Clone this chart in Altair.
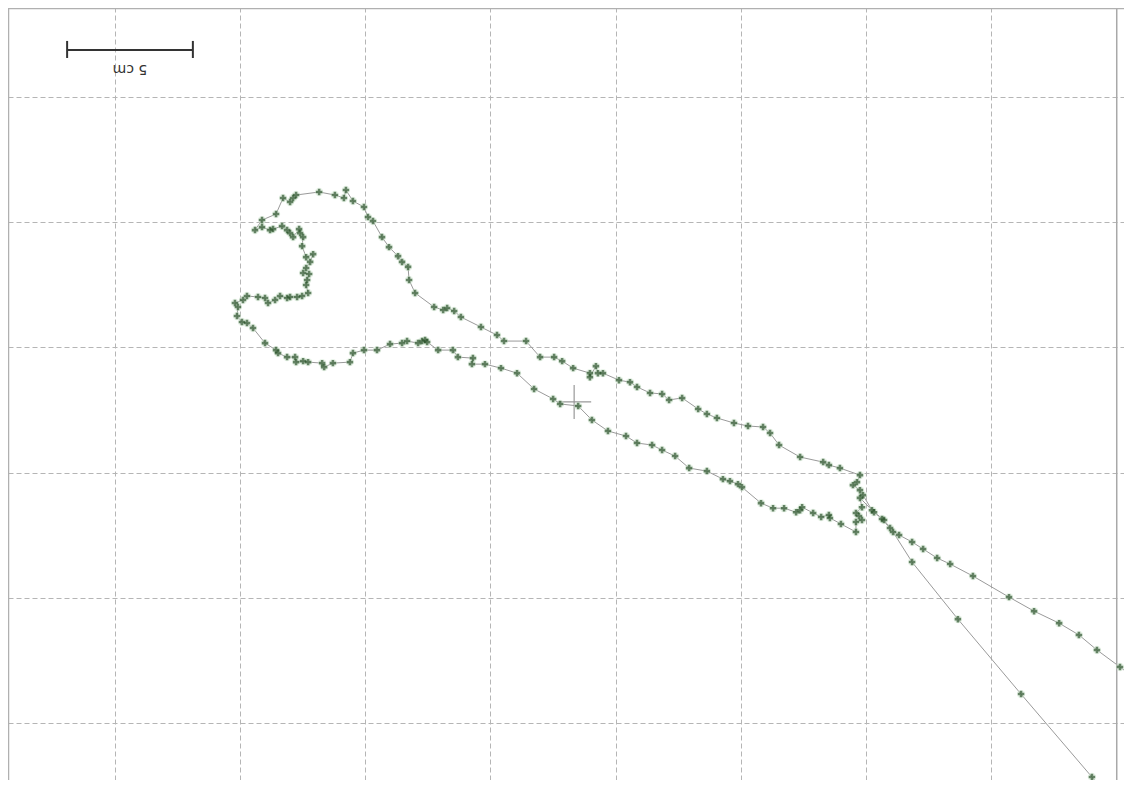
import altair as alt
import pandas as pd

# Trace of the tracked object (cm); first and last points lie just outside the view
trace_x = [41.85, 39.01, 36.18, 33.66, 31.83, 31.07, 30.63, 30.23, 29.87, 29.75, 29.47, 29.63, 29.75,
           28.95, 28.51, 28.28, 27.36, 26.52, 26.16, 25.88, 25.28, 24.72, 24.04, 23.64, 23.29, 22.65,
           22.13, 21.85, 21.37, 20.85, 20.57, 20.13, 19.49, 19.29, 19.21, 18.97, 18.97, 18.30, 17.86,
           17.54, 16.98, 16.42, 15.54, 15.26, 14.62, 13.82, 13.55, 13.27, 13.11, 12.75, 11.99, 11.75,
           11.71, 11.47, 11.31, 10.95, 10.67, 10.31, 10.11, 9.95, 9.51, 9.23, 9.15, 8.79, 8.16, 7.24,
           7.12, 7.00, 6.72, 6.44, 5.88, 5.60, 5.88, 6.20, 6.32, 6.68, 6.88, 7.00, 7.12, 7.36, 7.40,
           7.52, 7.48, 7.64, 7.92, 7.80, 7.64, 7.52, 7.76, 7.68, 7.64, 7.72, 7.48, 7.28, 7.00, 6.88,
           6.60, 6.40, 6.12, 6.00, 5.72, 5.28, 5.12, 4.80, 4.92, 4.88, 5.08, 5.28, 5.52, 6.00, 6.44,
           6.52, 6.88, 7.20, 7.24, 7.52, 7.72, 8.28, 8.36, 8.71, 9.39, 9.51, 9.95, 10.47, 10.99, 11.47,
           11.67, 12.11, 12.27, 12.39, 12.47, 12.91, 13.50, 13.70, 14.30, 14.26, 14.78, 15.42, 16.06,
           16.74, 17.50, 17.78, 18.50, 19.05, 19.69, 20.41, 20.85, 21.45, 21.85, 22.37, 22.93, 23.64,
           24.28, 24.56, 24.88, 25.04, 25.80, 26.28, 26.72, 27.20, 27.36, 27.44, 27.88, 28.20, 28.51,
           28.55, 28.99, 29.59, 29.59, 29.83, 29.71, 29.59, 29.83, 29.75, 30.31, 30.71, 30.95, 31.31,
           31.83, 32.27, 32.83, 33.35, 34.26, 35.70, 36.70, 37.70, 38.49, 39.21, 40.13, 41.33]
trace_y = [30.47, 27.15, 23.84, 20.85, 18.57, 17.37, 16.85, 16.50, 15.90, 15.70, 15.50, 15.38, 15.10,
           14.82, 14.70, 14.58, 14.38, 13.90, 13.42, 13.18, 13.14, 13.02, 12.82, 12.66, 12.46, 12.02,
           12.10, 11.86, 11.82, 11.58, 11.39, 11.31, 11.03, 11.03, 10.75, 11.19, 11.03, 10.83, 10.55,
           10.39, 10.39, 9.75, 9.75, 9.51, 9.19, 8.79, 8.55, 8.43, 8.51, 8.39, 7.83, 7.31,
           6.79, 6.59, 6.36, 6.00, 5.60, 4.96, 4.80, 4.40, 4.16, 3.72, 4.04, 3.92, 3.80, 3.92,
           4.04, 4.20, 4.04, 4.68, 4.92, 5.32, 5.20, 5.32, 5.28, 5.16, 5.32, 5.44, 5.60, 5.28, 5.44,
           5.60, 5.96, 6.40, 6.28, 6.59, 6.83, 7.03, 7.07, 7.31, 7.51, 7.83, 7.95, 7.99, 7.99, 8.03,
           7.95, 8.11, 8.23, 8.03, 7.99, 7.95, 8.11, 8.23, 8.39, 8.75, 8.99, 9.03, 9.23, 9.83, 10.11,
           10.23, 10.39, 10.39, 10.59, 10.55, 10.59, 10.63, 10.79, 10.63, 10.59, 10.23, 10.11, 10.11, 9.87, 9.83,
           9.75, 9.83, 9.75, 9.71, 9.79, 10.11, 10.11, 10.39, 10.43, 10.67, 10.67, 10.83, 11.03,
           11.66, 12.06, 12.26, 12.34, 12.90, 13.34, 13.54, 13.82, 13.90, 14.10, 14.34, 14.82, 14.94,
           15.26, 15.34, 15.46, 15.58, 16.22, 16.42, 16.42, 16.58, 16.50, 16.38, 16.61, 16.77, 16.69,
           16.81, 17.05, 17.37, 16.97, 16.89, 16.73, 16.61, 16.38, 16.01, 16.58, 16.89, 17.21, 17.49,
           17.77, 18.05, 18.41, 18.65, 19.13, 19.97, 20.53, 21.01, 21.48, 22.08, 22.76, 23.68]

# Grid every 5 cm
grid_x = [0, 5, 10, 15, 20, 25, 30, 35]
grid_y = [0, 5, 10, 15, 20, 25]
edge_x = [40]

# Scale bar (5 cm) and its label
bar_x = [-1.90]
bar_x2 = [3.12]
bar_y = [-1.87]
bar_tick_y = [-2.23]
bar_tick_y2 = [-1.55]
bar_label = ["5 cm"]
bar_label_x = [0.61]
bar_label_y = [-1.13]

# Centre crosshair
cross_x = [18.34]
cross_y = [12.18]
cross_half = 0.68

X_DOM = [-4.26, 40.29]
Y_DOM = [-3.545, 27.27]
W, H = 1116, 772

xs = alt.Scale(domain=X_DOM, nice=False, zero=False)
ys = alt.Scale(domain=Y_DOM, nice=False, zero=False, reverse=True)

trace = pd.DataFrame({"x": trace_x, "y": trace_y, "i": list(range(len(trace_x)))})

base = alt.Chart(trace)

line = base.mark_line(color="#9a9a9a", strokeWidth=1, clip=True).encode(
    x=alt.X("x:Q", scale=xs,
            axis=alt.Axis(values=grid_x, grid=True, gridDash=[5, 3], gridColor="#b5b5b5",
                          gridWidth=1, labels=False, ticks=False, domain=False, title=None)),
    y=alt.Y("y:Q", scale=ys,
            axis=alt.Axis(values=grid_y, grid=True, gridDash=[5, 3], gridColor="#b5b5b5",
                          gridWidth=1, labels=False, ticks=False, domain=False, title=None)),
    order=alt.Order("i:Q"),
)

halo = base.mark_point(shape="circle", filled=True, color="#cfe6cf", opacity=0.45,
                       size=70, clip=True).encode(x=alt.X("x:Q", scale=xs), y=alt.Y("y:Q", scale=ys))

points = base.mark_point(shape="cross", filled=True, color="#2b532b", size=42,
                         clip=True).encode(x=alt.X("x:Q", scale=xs), y=alt.Y("y:Q", scale=ys))

edge = alt.Chart(pd.DataFrame({"x": edge_x})).mark_rule(color="#a8a8a8", strokeWidth=1.5).encode(
    x=alt.X("x:Q", scale=xs))

frame_left = alt.Chart(pd.DataFrame({"a": [0]})).mark_rule(color="#b0b0b0", strokeWidth=1.5).encode(
    x=alt.value(0.5), y=alt.value(0), y2=alt.value(H))
frame_top = alt.Chart(pd.DataFrame({"a": [0]})).mark_rule(color="#b0b0b0", strokeWidth=1.5).encode(
    y=alt.value(0.5), x=alt.value(0), x2=alt.value(W))

bar_df = pd.DataFrame({"x": bar_x, "x2": bar_x2, "y": bar_y})
bar = alt.Chart(bar_df).mark_rule(color="#333333", strokeWidth=2).encode(
    x=alt.X("x:Q", scale=xs), x2="x2:Q", y=alt.Y("y:Q", scale=ys))
ticks_df = pd.DataFrame({"x": bar_x + bar_x2, "y": bar_tick_y * 2, "y2": bar_tick_y2 * 2})
bar_ticks = alt.Chart(ticks_df).mark_rule(color="#333333", strokeWidth=2).encode(
    x=alt.X("x:Q", scale=xs), y=alt.Y("y:Q", scale=ys), y2="y2:Q")
label = alt.Chart(pd.DataFrame({"x": bar_label_x, "y": bar_label_y, "t": bar_label})).mark_text(
    angle=180, fontSize=14, font="DejaVu Sans", color="#333333", align="center", baseline="middle"
).encode(x=alt.X("x:Q", scale=xs), y=alt.Y("y:Q", scale=ys), text="t:N")

cross_df = pd.DataFrame({"x": cross_x, "y": cross_y,
                         "xa": [cross_x[0] - cross_half], "xb": [cross_x[0] + cross_half],
                         "ya": [cross_y[0] - cross_half], "yb": [cross_y[0] + cross_half]})
cross_h = alt.Chart(cross_df).mark_rule(color="#999999", strokeWidth=1.2).encode(
    x=alt.X("xa:Q", scale=xs), x2="xb:Q", y=alt.Y("y:Q", scale=ys))
cross_v = alt.Chart(cross_df).mark_rule(color="#999999", strokeWidth=1.2).encode(
    x=alt.X("x:Q", scale=xs), y=alt.Y("ya:Q", scale=ys), y2="yb:Q")

chart = alt.layer(
    line, edge, frame_left, frame_top, cross_h, cross_v, halo, points, bar, bar_ticks, label
).properties(
    width=W, height=H, padding=0, autosize=alt.AutoSizeParams(type="none"),
    background="white"
).configure_view(stroke=None)

chart.save("out.html", embed_options={"renderer": "svg", "actions": False})
